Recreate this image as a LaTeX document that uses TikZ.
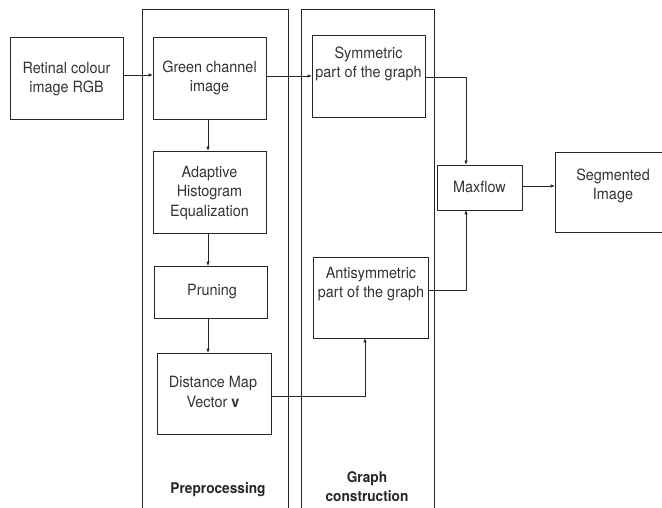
\documentclass[tikz,border=0pt]{standalone}
\usepackage{fontspec}
\setmainfont{TeX Gyre Heros}[FakeStretch=0.93]
\usetikzlibrary{arrows.meta}
\begin{document}
\begin{tikzpicture}[x=1pt,y=-1pt,
  ink/.style={black!85},
  box/.style={draw=black!85, line width=0.8pt, rectangle, inner sep=0pt},
  panel/.style={draw=black!85, line width=0.8pt, rectangle, inner sep=0pt},
  txt/.style={text=black!80, align=center, inner sep=0pt, font=\fontsize{15.5}{19.5}\selectfont},
  lbl/.style={text=black!85, align=center, inner sep=0pt, font=\fontsize{14.7}{19}\selectfont\bfseries},
  conn/.style={draw=black!85, line width=0.8pt, -{Triangle[length=4pt,width=3pt]}},
  wire/.style={draw=black!85, line width=0.8pt}]
\useasboundingbox (0,0) rectangle (662,508);
\clip (0,0) rectangle (662,508);

% panels
\node[panel, minimum width=146pt, minimum height=521pt] (prep) at (215,269.5) {};
\node[panel, minimum width=133pt, minimum height=521pt] (gc) at (367.5,269.5) {};
\node[lbl, anchor=base] (preplbl) at (218,493) {Preprocessing};
\node[lbl] (gclbl) at (367,487) {Graph\\construction};

% boxes
\node[box, minimum width=113pt, minimum height=82pt] (ret) at (66.5,78) {};
\node[txt] (rett) at (66.5,79) {Retinal colour\\image RGB};

\node[box, minimum width=113pt, minimum height=82pt] (green) at (209.5,78) {};
\node[txt] (greent) at (209.5,78) {Green channel\\image};

\node[box, minimum width=113pt, minimum height=82pt] (adapt) at (209.5,192) {};
\node[txt] (adaptt) at (209.5,193) {Adaptive\\Histogram\\Equalization};

\node[box, minimum width=113pt, minimum height=52pt] (prune) at (210.5,292) {};
\node[txt] (prunet) at (212,292) {Pruning};

\node[box, minimum width=114pt, minimum height=81pt] (dist) at (214,393.5) {};
\node[txt] (distt) at (213,392) {Distance Map\\Vector \textbf{v}};

\node[box, minimum width=113pt, minimum height=82pt] (sym) at (368.5,76) {};
\node[txt] (symt) at (368.5,64) {Symmetric\\part of the graph};

\node[box, minimum width=115pt, minimum height=81pt] (anti) at (370.5,297.5) {};
\node[txt] (antit) at (371,284) {Antisymmetric\\part of the graph};

\node[box, minimum width=85pt, minimum height=45pt] (maxf) at (479.5,187.5) {};
\node[txt] (maxft) at (479.5,187) {Maxflow};

\node[box, minimum width=116pt, minimum height=80pt] (seg) at (613,192) {};
\node[txt] (segt) at (613,186) {Segmented\\Image};

% connectors
\draw[conn] ([yshift=3pt]ret.east) -- ([yshift=3pt]green.west);
\draw[conn] (green.east |- sym.west) -- (sym.west);
\draw[conn] ([xshift=-1.5pt]green.south) -- ([xshift=-1.5pt]adapt.north);
\draw[conn] ([xshift=-1.5pt]adapt.south) -- ([xshift=-1.5pt]adapt.south |- prune.north);
\draw[conn] ([xshift=-1.5pt]adapt.south |- prune.south) -- ([xshift=-1.5pt]adapt.south |- dist.north);
\draw[conn] ([yshift=-2.5pt]dist.east) -| ([xshift=-5.5pt]anti.south);
\draw[conn] ([yshift=-1pt]sym.east) -| ([xshift=-13.5pt]maxf.north);
\draw[conn] ([yshift=7.5pt]anti.east) -| ([xshift=-13.5pt]maxf.south);
\draw[conn] ([yshift=1.5pt]maxf.east) -- ([yshift=1.5pt]maxf.east -| seg.west);
\end{tikzpicture}
\end{document}
